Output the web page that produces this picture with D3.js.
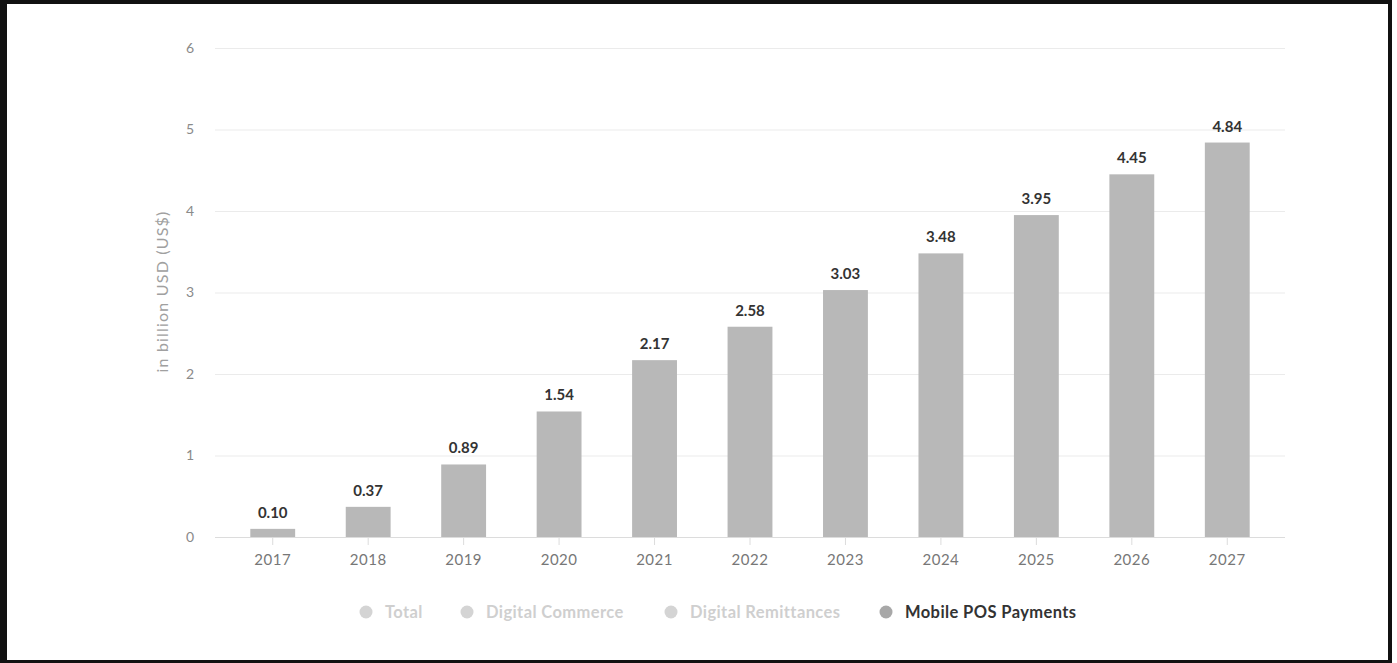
<!DOCTYPE html>
<html>
<head>
<meta charset="utf-8">
<script src="https://cdn.jsdelivr.net/npm/d3@7"></script>
<style>
  html, body { margin: 0; padding: 0; background: #fff; }
  svg { display: block; }
  text { font-family: Lato, "Open Sans", sans-serif; }
</style>
</head>
<body>
<svg id="chart" width="1397" height="663"></svg>
<script>
// Mobile POS payment values by year, in billion USD
const years = ["2017", "2018", "2019", "2020", "2021", "2022", "2023", "2024", "2025", "2026", "2027"];
const values = [0.10, 0.37, 0.89, 1.54, 2.17, 2.58, 3.03, 3.48, 3.95, 4.45, 4.84];
const yTicks = [0, 1, 2, 3, 4, 5, 6];
const legendItems = ["Total", "Digital Commerce", "Digital Remittances", "Mobile POS Payments"];
const activeSeries = "Mobile POS Payments";
const yTitle = "in billion USD (US$)";

const svg = d3.select("#chart");
const W = 1397, H = 663;

// Frame around the whole graphic
svg.append("rect").attr("x", 0).attr("y", 0).attr("width", W).attr("height", H).attr("fill", "#fff");
svg.append("rect").attr("x", 0).attr("y", 0).attr("width", 7).attr("height", H).attr("fill", "#111");
svg.append("rect").attr("x", 0).attr("y", 0).attr("width", 1392).attr("height", 4).attr("fill", "#111");
svg.append("rect").attr("x", 1388).attr("y", 0).attr("width", 4).attr("height", H).attr("fill", "#111");
svg.append("rect").attr("x", 0).attr("y", 660).attr("width", 1392).attr("height", 3).attr("fill", "#111");

const plot = { left: 225, right: 1275, top: 48, bottom: 537 };
const gridPad = 10;

const x = d3.scaleBand()
  .domain(years)
  .range([plot.left, plot.right])
  .paddingInner(0.53)
  .paddingOuter(0.265);

const y = d3.scaleLinear()
  .domain([0, 6])
  .range([plot.bottom, plot.top]);

// Horizontal gridlines and y tick labels
const yAxis = d3.axisLeft(y)
  .tickValues(yTicks)
  .tickFormat(d3.format("d"))
  .tickSize(-(plot.right - plot.left + 2 * gridPad))
  .tickPadding(21);

const gy = svg.append("g")
  .attr("transform", `translate(${plot.left - gridPad},0)`)
  .call(yAxis);
gy.select(".domain").remove();
gy.selectAll(".tick line").attr("stroke", "#ebebeb").attr("stroke-width", 1);
gy.selectAll(".tick text")
  .attr("fill", "#8a8a8a")
  .style("font-size", "14px");

// Y axis title
svg.append("text")
  .attr("transform", `translate(168,${(plot.top + plot.bottom) / 2 - 1}) rotate(-90)`)
  .attr("text-anchor", "middle")
  .attr("fill", "#a0a0a0")
  .style("font-size", "16px")
  .style("letter-spacing", "1.2px")
  .text(yTitle);

// Bars
svg.append("g")
  .selectAll("rect")
  .data(values)
  .join("rect")
  .attr("x", (d, i) => x(years[i]))
  .attr("y", d => y(d))
  .attr("width", x.bandwidth())
  .attr("height", d => y(0) - y(d))
  .attr("fill", "#b8b8b8");

// X axis baseline, ticks and labels
const xAxis = d3.axisBottom(x).tickSize(8).tickPadding(9).tickSizeOuter(0);
const gx = svg.append("g")
  .attr("transform", `translate(0,${plot.bottom})`)
  .call(xAxis);
gx.select(".domain")
  .attr("d", `M${plot.left - gridPad},0.5H${plot.right + gridPad}`)
  .attr("stroke", "#dcdcdc");
gx.selectAll(".tick line").attr("stroke", "#dcdcdc");
gx.selectAll(".tick text")
  .attr("fill", "#777")
  .style("font-size", "15px")
  .style("letter-spacing", "0.5px");

// Value labels above bars
svg.append("g")
  .selectAll("text")
  .data(values)
  .join("text")
  .attr("x", (d, i) => x(years[i]) + x.bandwidth() / 2)
  .attr("y", d => y(d) - 11)
  .attr("text-anchor", "middle")
  .attr("fill", "#333")
  .style("font-size", "15px")
  .style("font-weight", "bold")
  .text(d => d3.format(".2f")(d));

// Legend
const legendX = [366, 467, 671, 886];
const lg = svg.append("g").attr("transform", "translate(0,612)");
const li = lg.selectAll("g")
  .data(legendItems)
  .join("g")
  .attr("transform", (d, i) => `translate(${legendX[i]},0)`);
li.append("circle")
  .attr("r", 6.5)
  .attr("fill", d => d === activeSeries ? "#a8a8a8" : "#d4d4d4");
li.append("text")
  .attr("x", 19)
  .attr("dy", "0.35em")
  .attr("fill", d => d === activeSeries ? "#333" : "#cfcfcf")
  .style("font-size", "16.5px")
  .style("letter-spacing", "0.4px")
  .style("font-weight", "bold")
  .text(d => d);
</script>
</body>
</html>
